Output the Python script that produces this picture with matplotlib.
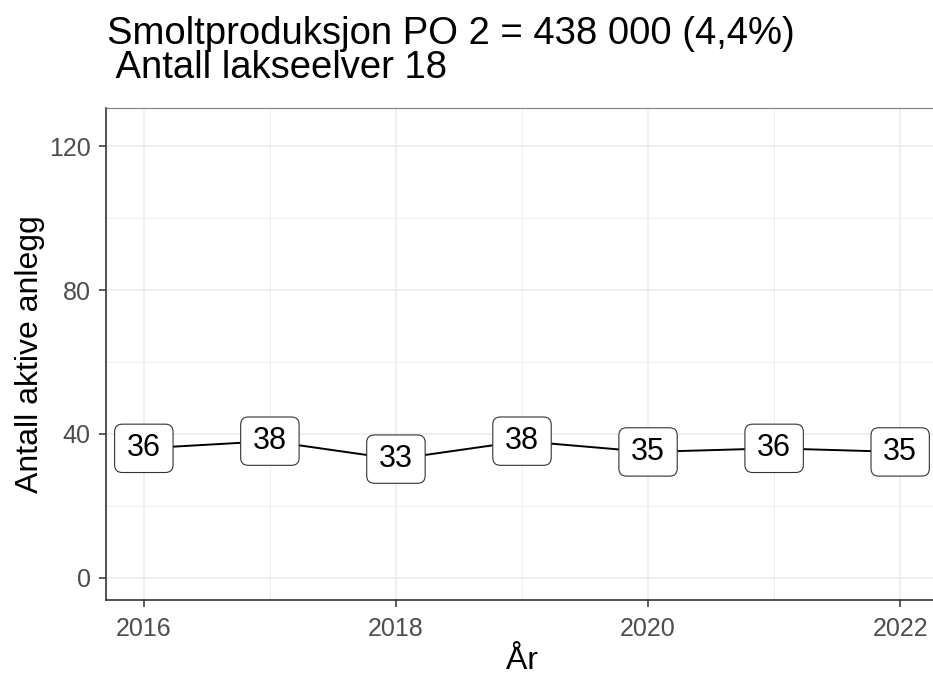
import matplotlib.pyplot as plt
from matplotlib.patches import BoxStyle
from matplotlib.ticker import MultipleLocator

# data
years = [2016, 2017, 2018, 2019, 2020, 2021, 2022]
anlegg = [36, 38, 33, 38, 35, 36, 35]
title_line1 = "Smoltproduksjon PO 2 = 438 000 (4,4%)"
title_line2 = " Antall lakseelver 18"

plt.rcParams['font.family'] = ['Liberation Sans', 'DejaVu Sans']


# rounded label box, wider padding left/right than top/bottom (like geom_label)
def label_box(x0, y0, width, height, mutation_size):
    px, py = 0.4 * mutation_size, 0.3 * mutation_size
    rnd = BoxStyle.Round(pad=0, rounding_size=0.25)
    return rnd(x0 - px, y0 - py, width + 2 * px, height + 2 * py, mutation_size)


W, H = 933, 677
fig = plt.figure(figsize=(W / 100, H / 100), dpi=100)
ax = fig.add_axes([106 / W, 77 / H, (938 - 106) / W, (600 - 108) / H])

ax.plot(years, anlegg, color='black', lw=1.4, zorder=3)
for x, y in zip(years, anlegg):
    ax.text(x, y, str(y), ha='center', va='center', fontsize=22, zorder=4,
            bbox=dict(boxstyle=label_box, fc='white', ec='#333333', lw=0.8))

ax.set_xlim(2015.7, 2022.3)
ax.set_ylim(-6.2, 130.7)
ax.xaxis.set_major_locator(MultipleLocator(2))
ax.xaxis.set_minor_locator(MultipleLocator(1))
ax.yaxis.set_major_locator(MultipleLocator(40))
ax.yaxis.set_minor_locator(MultipleLocator(20))
ax.grid(which='major', color='#EBEBEB', lw=1.1)
ax.grid(which='minor', color='#EBEBEB', lw=0.6)
ax.set_axisbelow(True)
ax.tick_params(which='major', labelsize=18, labelcolor='#4D4D4D',
               color='#333333', length=5, width=1.1)
ax.tick_params(axis='x', which='major', pad=7.5)
ax.tick_params(axis='y', which='major', pad=6)
ax.tick_params(which='minor', length=0)

for s in ['left', 'bottom']:
    ax.spines[s].set_color('#333333')
    ax.spines[s].set_linewidth(1.2)
ax.spines['top'].set_color('#7F7F7F')
ax.spines['right'].set_visible(False)

ax.set_xlabel('År', fontsize=23, labelpad=3)
ax.set_ylabel('Antall aktive anlegg', fontsize=23, labelpad=3)

fig.text(107 / W, 1 - 44.5 / H, title_line1, fontsize=27.5, va='baseline')
fig.text(107 / W, 1 - 78.5 / H, title_line2, fontsize=27.5, va='baseline')

fig.savefig('out.png', dpi=100)
